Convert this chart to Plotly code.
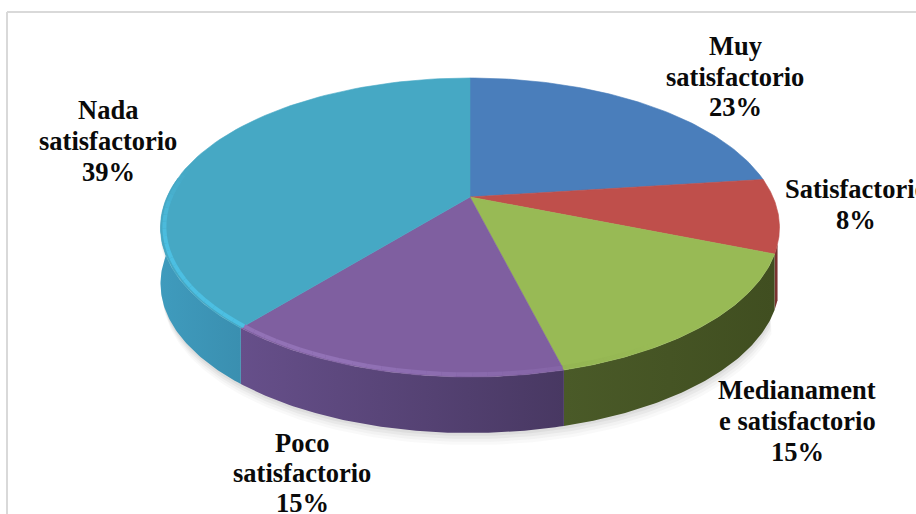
import numpy as np
import plotly.graph_objects as go

categories = ["Muy satisfactorio", "Satisfactorio", "Medianamente satisfactorio", "Poco satisfactorio", "Nada satisfactorio"]
values = [23, 8, 15, 15, 39]
top_colors = ["#4a7ebb", "#bf4f4b", "#98ba55", "#7f5fa0", "#46a8c4"]
side_left = ["#3a5f8e", "#7a3230", "#4a5a28", "#664f8a", "#3f9bbd"]
side_right = ["#3a5f8e", "#7a3230", "#404e20", "#483862", "#3a8fb0"]
bevel_colors = ["#4a7ebb", "#bf4f4b", "#8cab4e", "#9272b6", "#4cbfe2"]
label_lines = [
    ["Muy", "satisfactorio", "23%"],
    ["Satisfactorio", "8%"],
    ["Medianament", "e satisfactorio", "15%"],
    ["Poco", "satisfactorio", "15%"],
    ["Nada", "satisfactorio", "39%"],
]

CX, CY, R, RY, K, DEPTH = 470, 197, 303, 143.3, 0.204, 56


def project(theta_deg, r=1.0, drop=0.0):
    t = np.radians(theta_deg)
    d = 1 + K * r * np.cos(t)
    return CX + R * r * np.sin(t) / d, CY + drop - RY * r * np.cos(t) / d


def mix(a, b, f):
    ca = [int(a[i:i + 2], 16) for i in (1, 3, 5)]
    cb = [int(b[i:i + 2], 16) for i in (1, 3, 5)]
    return "rgb(%d,%d,%d)" % tuple(round(x + (y - x) * f) for x, y in zip(ca, cb))


total = sum(values)
edges = np.concatenate([[0], np.cumsum(values)]) * 360.0 / total
fig = go.Figure()


def poly(xs, ys, color, lw=0.6):
    fig.add_trace(go.Scatter(x=xs, y=ys, mode="lines", fill="toself", fillcolor=color,
                             line=dict(color=color, width=lw), hoverinfo="skip", showlegend=False))


# soft shadow under the disc
ring = np.linspace(116, 268, 120)
for grow, alpha in [(16, 0.035), (12, 0.045), (8, 0.06), (4, 0.07)]:
    xs, ys = project(ring, 1.0, DEPTH + grow * 0.75)
    poly(np.concatenate([xs + grow * 0.15, xs[::-1]]).tolist(),
         np.concatenate([ys, ys[::-1] - 60]).tolist(), "rgba(90,90,90,%g)" % alpha, 0)

# side wall: one gradient-filled polygon per visible slice
for i, v in enumerate(values):
    a0, a1 = max(edges[i], 108), min(edges[i + 1], 278)
    if a1 <= a0:
        continue
    th = np.linspace(a0, a1, 80)
    x0, y0 = project(th)
    x1, y1 = project(th, 1.0, DEPTH)
    fig.add_trace(go.Scatter(
        x=np.concatenate([x0, x1[::-1]]).tolist(),
        y=np.concatenate([y0, y1[::-1]]).tolist(),
        mode="lines", fill="toself", line=dict(width=0),
        fillgradient=dict(type="horizontal",
                          colorscale=[[0, side_left[i]], [1, side_right[i]]]),
        hoverinfo="skip", showlegend=False))

# top face
for i, v in enumerate(values):
    th = np.linspace(edges[i], edges[i + 1], 80)
    x, y = project(th)
    poly([CX] + x.tolist() + [CX], [CY] + y.tolist() + [CY], top_colors[i])

# bevel highlight near the front rim
for i, v in enumerate(values):
    a0, a1 = max(edges[i], 150), min(edges[i + 1], 282)
    if a1 <= a0:
        continue
    th = np.linspace(a0, a1, 24)
    for j in range(len(th) - 1):
        mid = (th[j] + th[j + 1]) / 2
        strength = np.clip((mid - 150) / 50, 0, 1) * np.clip((282 - mid) / 30, 0, 1)
        seg = np.linspace(th[j], th[j + 1], 3)
        x, y = project(seg, 0.988, 0)
        fig.add_trace(go.Scatter(x=x.tolist(), y=y.tolist(), mode="lines", hoverinfo="skip", showlegend=False,
                                 line=dict(color=mix(top_colors[i], bevel_colors[i], strength), width=4)))

# data labels, one real text line per annotation
label_x = [735, 856, 797, 302, 108]
label_top = [46, 189, 390, 443, 110]
line_gap = [30.5, 31, 31, 30, 31]
for i, lines in enumerate(label_lines):
    for n, text in enumerate(lines):
        fig.add_annotation(x=label_x[i], y=label_top[i] + n * line_gap[i], text="<b>%s</b>" % text, showarrow=False,
                           xanchor="center", yanchor="middle", align="center",
                           font=dict(family="Liberation Serif", size=26.5, color="#0a0a0a"),
                           xref="x", yref="y")

fig.update_layout(
    width=916, height=514, margin=dict(l=0, r=0, t=0, b=0),
    paper_bgcolor="white", plot_bgcolor="white", showlegend=False,
    xaxis=dict(range=[0, 916], visible=False, fixedrange=True),
    yaxis=dict(range=[514, 0], visible=False, fixedrange=True),
    shapes=[
        dict(type="line", x0=7, x1=916, y0=12, y1=12, line=dict(color="#d9d9d9", width=2)),
        dict(type="line", x0=7, x1=7, y0=12, y1=514, line=dict(color="#d9d9d9", width=2)),
    ],
)
fig.write_html("out.html", config={"displayModeBar": False},
               post_script="document.body.style.margin='0';document.body.style.overflow='hidden';")
